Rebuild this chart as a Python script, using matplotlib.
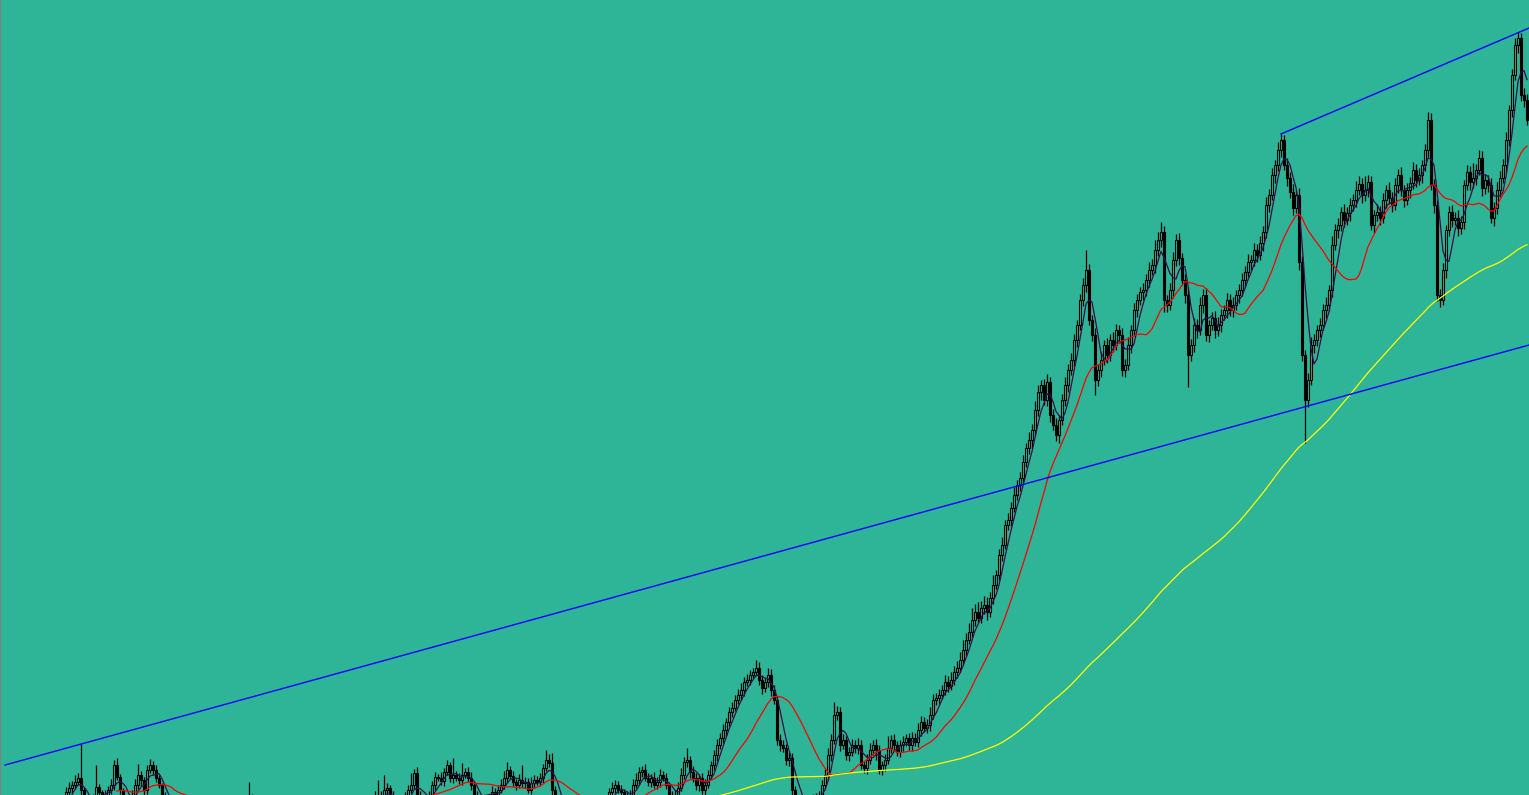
import numpy as np
import pandas as pd
import matplotlib
matplotlib.use('Agg')
import matplotlib.pyplot as plt


# -----------------------------------------------------------------------------
# Daily closes (price units), one candle every bar
# -----------------------------------------------------------------------------
close = np.array([
    195, 200, 208, 212, 215, 218, 222, 210, 200, 195, 192, 200, 213, 208, 205, 202, 210, 215, 235, 223,
    210, 200, 197, 200, 205, 215, 225, 220, 210, 230, 235, 230, 222, 215, 205, 198,
    195, 190, 186, 183, 180, 178, 177, 178, 180, 182, 181, 179, 177, 176, 178, 180, 182, 184, 186, 187,
    187, 186, 184, 186, 188, 192, 196,
    203, 200,
    194, 190, 186, 182, 178, 175, 172, 170, 168, 168, 170, 172, 175, 178, 180, 182, 183, 182, 180, 178,
    176, 174, 173, 174, 176, 178, 180, 182, 184, 186, 188, 190, 192, 193, 192, 191, 192, 194, 197, 200,
    203,
    205, 200, 210, 212, 205, 197, 195, 195, 197, 202, 210, 215, 227, 205, 200, 198, 200, 203, 215, 223,
    222, 219, 228, 235, 222, 225, 222, 220, 225, 228, 222, 215, 205, 200, 197, 195, 197, 200, 208, 205,
    210, 215, 222, 230, 224, 218, 215, 220, 217, 218, 210, 217, 220, 218, 222, 232, 240, 237, 210, 200,
    195, 190, 186, 183, 180, 178, 177, 176, 177, 178, 180, 182, 184, 186, 189, 193, 198,
    208, 212, 215, 210, 208, 205, 202, 205, 215, 220, 228, 230, 222, 218, 222, 215, 218, 225, 222, 215,
    205, 202, 205, 212, 225, 238, 240, 228, 222, 215, 222, 210, 215, 225, 235, 245, 255, 262, 270, 278,
    288, 292, 300, 305, 310, 318, 320, 325, 328, 332, 320, 312, 318, 325, 310, 300, 260, 255, 252, 240,
    242, 210, 200,
    198, 197, 197, 198, 200, 202, 204, 205,
    215, 225, 245, 260, 285, 288, 255, 260, 245, 248, 255, 252, 255, 235, 232, 240, 250, 255, 250, 230,
    235, 240, 252, 260, 255, 248, 255, 258, 262, 255, 262, 258, 270, 278, 272, 275, 285, 300, 302, 305,
    310, 318, 314, 320, 328, 332, 340, 350, 360, 368, 380, 388, 382, 392, 395, 388, 402, 415, 425, 445,
    455, 475, 480, 492, 505, 515, 522, 538, 552, 560, 570, 590, 608, 615, 600, 618, 585, 575, 565, 580,
    600, 615, 630, 640, 660, 675, 700,
    715, 730, 680, 665, 620, 630, 640, 655, 645, 660, 655, 670, 665, 630, 635, 655, 670, 690, 700, 708,
    710, 720, 730, 735, 750, 760, 768, 700, 695, 710, 740, 760, 742, 720, 705, 645, 655, 675, 670, 695,
    705, 665, 675, 682, 670, 675, 685, 690, 700, 690, 695, 705, 710, 720, 728, 738, 740, 750, 745, 757,
    768, 795, 805, 825, 835, 850, 860, 835, 822, 808, 792, 805, 738, 645, 600, 620, 655, 660, 670, 675,
    690, 695, 710, 755, 770, 775, 788, 780, 787, 795, 800, 810, 816, 805, 810, 818, 775, 785, 788, 782,
    800, 810, 802, 795, 815, 825, 810, 800, 810, 817, 830, 820, 825, 835, 850, 880, 815, 795, 705, 700,
    730, 770, 788, 780, 782, 772, 778, 815, 828, 818, 822, 830, 842, 812, 820, 815, 782, 792, 810, 822,
    835, 860, 890, 925, 955, 962, 905, 900, 880,
], dtype=float)

# upper / lower shadow length of every candle
wick_up = np.array([
    4, 3, 5, 6, 4, 7, 5, 34, 3, 2, 4, 6, 22, 3, 2, 5, 4, 6, 5, 7,
    3, 2, 4, 3, 5, 6, 11, 4, 3, 5, 6, 4, 5, 3, 2, 3, 4, 2, 3, 5,
    3, 4, 2, 3, 5, 4, 3, 2, 4, 3, 5, 3, 4, 2, 3, 4, 3, 5, 2, 3,
    4, 3, 5, 15, 3, 4, 2, 3, 4, 3, 2, 4, 3, 5, 3, 2, 4, 3, 3, 4,
    3, 2, 4, 3, 5, 4, 3, 2, 3, 4, 3, 5, 2, 4, 3, 3, 2, 4, 3, 5,
    4, 3, 5, 3, 4, 6, 15, 4, 15, 5, 3, 4, 3, 5, 4, 6, 5, 12, 4, 6,
    4, 3, 5, 6, 4, 5, 3, 6, 4, 5, 3, 17, 4, 5, 12, 4, 5, 6, 3, 4,
    3, 4, 3, 5, 6, 4, 5, 6, 7, 8, 4, 5, 3, 6, 15, 5, 4, 6, 5, 4,
    5, 4, 10, 6, 10, 4, 3, 4, 3, 2, 3, 4, 3, 2, 4, 3, 3, 4, 2, 3,
    4, 3, 5, 4, 6, 5, 4, 5, 3, 4, 5, 6, 7, 5, 4, 6, 5, 4, 6, 5,
    6, 4, 5, 3, 4, 5, 6, 7, 5, 12, 4, 6, 5, 4, 5, 6, 5, 4, 5, 6,
    5, 6, 4, 5, 6, 5, 6, 7, 5, 6, 5, 4, 8, 6, 5, 4, 7, 6, 5, 4,
    6, 5, 4, 6, 5, 4, 3, 4, 3, 4, 3, 4, 3, 4, 5, 6, 7, 6, 13, 6,
    5, 6, 4, 5, 6, 5, 7, 5, 4, 6, 7, 5, 6, 5, 4, 6, 12, 5, 6, 4,
    5, 6, 4, 5, 6, 5, 7, 6, 5, 6, 8, 6, 5, 6, 5, 7, 6, 8, 6, 7,
    8, 10, 7, 9, 12, 8, 10, 7, 9, 8, 6, 10, 5, 6, 8, 5, 7, 6, 8, 5,
    6, 7, 5, 8, 6, 9, 7, 5, 6, 8, 5, 6, 7, 5, 6, 8, 6, 7, 6, 5,
    6, 7, 20, 6, 5, 7, 6, 8, 5, 7, 6, 8, 6, 5, 7, 6, 8, 5, 7, 6,
    5, 7, 6, 8, 6, 10, 8, 10, 6, 5, 7, 8, 6, 7, 5, 6, 8, 6, 7, 6,
    8, 6, 7, 5, 6, 7, 8, 6, 5, 7, 6, 8, 5, 6, 7, 6, 8, 5, 7, 6,
    7, 6, 8, 6, 7, 5, 8, 6, 5, 7, 6, 8, 5, 7, 6, 5, 7, 8, 6, 5,
    7, 6, 8, 5, 9, 6, 7, 5, 8, 6, 7, 6, 9, 8, 6, 14, 7, 6, 5, 8,
    6, 7, 5, 8, 6, 7, 6, 8, 5, 7, 6, 8, 6, 7, 5, 6, 8, 7, 6, 5,
    6, 7, 5, 6, 7, 6, 8, 6, 5, 7, 6, 15, 6, 8, 7, 6, 5, 7, 6, 8,
    7, 6, 8, 5, 6, 7, 6, 5, 7, 6,
], dtype=float)

wick_dn = np.array([
    5, 4, 3, 5, 6, 4, 3, 5, 4, 3, 5, 4, 6, 3, 4, 5, 3, 4, 5, 3,
    4, 5, 3, 4, 5, 3, 4, 6, 5, 4, 3, 5, 4, 3, 5, 4, 3, 5, 4, 3,
    4, 3, 5, 4, 3, 5, 4, 3, 5, 4, 3, 4, 5, 3, 4, 5, 3, 4, 5, 4,
    3, 4, 5, 3, 4, 5, 3, 4, 5, 3, 4, 5, 3, 4, 5, 3, 4, 5, 3, 4,
    5, 3, 4, 5, 3, 4, 5, 3, 4, 5, 3, 4, 5, 3, 4, 5, 3, 4, 5, 3,
    4, 5, 3, 4, 5, 3, 4, 5, 3, 4, 5, 3, 4, 5, 3, 4, 5, 3, 4, 5,
    3, 4, 5, 3, 4, 5, 3, 4, 5, 3, 4, 5, 3, 4, 5, 3, 4, 5, 3, 4,
    5, 3, 4, 5, 3, 4, 5, 3, 4, 5, 3, 4, 5, 3, 4, 5, 3, 4, 5, 3,
    4, 5, 3, 4, 5, 3, 4, 5, 3, 4, 5, 3, 4, 5, 3, 4, 5, 3, 4, 5,
    3, 4, 5, 3, 4, 5, 3, 4, 5, 3, 4, 5, 3, 4, 5, 3, 4, 5, 3, 4,
    5, 3, 4, 5, 6, 4, 5, 3, 4, 5, 6, 4, 5, 6, 4, 5, 3, 4, 5, 6,
    4, 5, 6, 4, 5, 3, 4, 5, 6, 4, 5, 3, 4, 5, 6, 4, 5, 6, 4, 5,
    6, 4, 5, 6, 8, 5, 4, 5, 6, 4, 5, 6, 4, 5, 6, 4, 5, 6, 4, 5,
    6, 4, 5, 6, 4, 5, 6, 4, 5, 6, 4, 5, 10, 4, 5, 6, 4, 5, 6, 4,
    5, 6, 4, 5, 6, 4, 5, 6, 4, 5, 6, 4, 5, 6, 4, 5, 6, 4, 5, 6,
    4, 5, 6, 4, 5, 6, 4, 5, 6, 8, 5, 6, 4, 5, 6, 4, 5, 6, 4, 5,
    6, 4, 5, 6, 8, 5, 6, 8, 5, 6, 7, 5, 6, 8, 5, 6, 7, 5, 6, 7,
    5, 6, 7, 5, 6, 15, 6, 7, 5, 8, 6, 7, 5, 8, 6, 7, 5, 8, 6, 7,
    5, 8, 6, 7, 5, 8, 6, 7, 12, 7, 5, 8, 6, 7, 5, 8, 32, 6, 7, 8,
    5, 8, 6, 7, 5, 8, 6, 7, 5, 8, 6, 7, 5, 8, 6, 7, 5, 8, 6, 7,
    5, 8, 6, 7, 5, 8, 6, 7, 5, 8, 6, 7, 5, 8, 6, 43, 7, 5, 8, 6,
    7, 5, 8, 6, 7, 5, 8, 6, 7, 5, 8, 6, 7, 5, 8, 6, 7, 5, 8, 6,
    7, 5, 8, 6, 7, 5, 8, 6, 7, 5, 8, 6, 7, 5, 8, 6, 7, 5, 8, 6,
    7, 5, 8, 6, 7, 5, 8, 6, 7, 5, 8, 6, 7, 5, 8, 6, 7, 5, 8, 6,
    7, 5, 8, 6, 7, 5, 8, 6, 7, 5,
], dtype=float)

# hand drawn trend lines (bar index, price)
trend_low_x = [-18.3, 489.7]
trend_low_y = [235, 655]
trend_high_x = [407, 489.7]
trend_high_y = [866, 972]

ma_periods = [5, 20, 150]
ma_colors = ['#3c0a46', '#ff0000', '#ffff00']

bg = '#2eb496'


# -----------------------------------------------------------------------------
# Build OHLC
# -----------------------------------------------------------------------------
opn = np.r_[close[0], close[:-1]]
top = np.maximum(opn, close)
bot = np.minimum(opn, close)
high = top + wick_up
low = bot - wick_dn
x = np.arange(len(close))
bear = close < opn


fig = plt.figure(figsize=(15.29, 7.95), dpi=100)
fig.patch.set_facecolor(bg)
ax = fig.add_axes([0, 0, 1, 1])
ax.set_facecolor(bg)

# shadows
ax.vlines(x, low, high, color='black', lw=0.9, zorder=2)

# bodies
body = np.maximum(top - bot, 0.6)
ax.bar(x[~bear], body[~bear], bottom=bot[~bear], width=0.62,
       facecolor=bg, edgecolor='black', linewidth=0.8, zorder=3)
ax.bar(x[bear], body[bear], bottom=bot[bear], width=0.62,
       facecolor='black', edgecolor='black', linewidth=0.8, zorder=3)

# moving averages
s = pd.Series(close)
for per, col in zip(ma_periods, ma_colors):
    ax.plot(x, s.rolling(per).mean(), color=col, lw=0.9, zorder=4)

# trend lines
ax.plot(trend_low_x, trend_low_y, color='#0000ff', lw=1.0, zorder=5)
ax.plot(trend_high_x, trend_high_y, color='#0000ff', lw=1.0, zorder=5)

ax.set_xlim(-20, 489.67)
ax.set_ylim(205, 1000)
ax.set_xticks([])
ax.set_yticks([])
for side in ['top', 'right', 'bottom']:
    ax.spines[side].set_visible(False)
ax.spines['left'].set_color('#808080')
ax.spines['left'].set_linewidth(1.5)

fig.savefig('out.png', dpi=100, facecolor=bg)
